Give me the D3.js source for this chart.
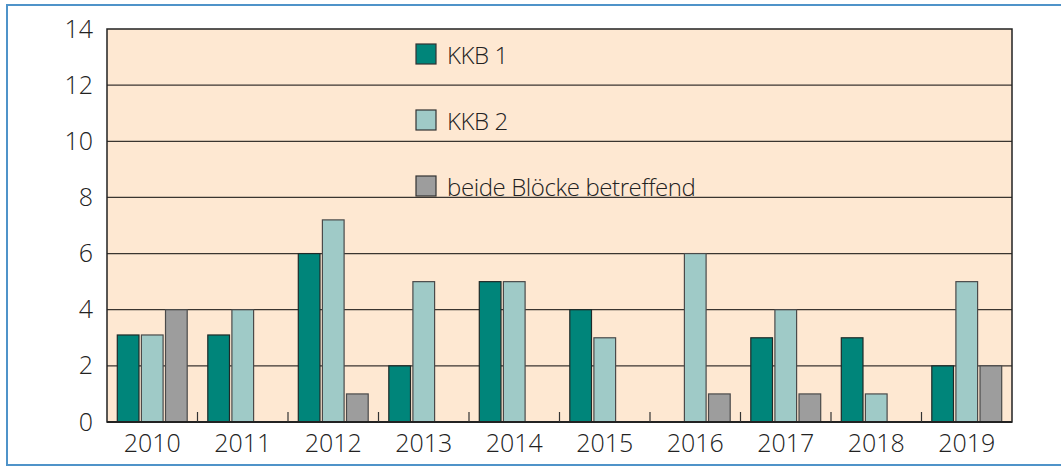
<!DOCTYPE html>
<html>
<head>
<meta charset="utf-8">
<script src="https://cdn.jsdelivr.net/npm/d3@7"></script>
<style>
    body { margin: 0; background: #fff; }
    svg text { font-family: "Open Sans", sans-serif; font-weight: 350; fill: #222; }
</style>
</head>
<body>
<div id="chart"></div>
<script>

var years = ["2010", "2011", "2012", "2013", "2014", "2015", "2016", "2017", "2018", "2019"];
var seriesNames = ["KKB 1", "KKB 2", "beide Blöcke betreffend"];
var kkb1 = [3.1, 3.1, 6, 2, 5, 4, 0, 3, 3, 2];
var kkb2 = [3.1, 4, 7.2, 5, 5, 3, 6, 4, 1, 5];
var beide = [4, 0, 1, 0, 0, 0, 1, 1, 0, 2];
var yTicks = [0, 2, 4, 6, 8, 10, 12, 14];

BarChart = function(container){

    this.container = container;
    this.colors = ["#00857a", "#9fcac7", "#9d9d9d"];
    this.series = [kkb1, kkb2, beide];

    this._init();
};

BarChart.prototype._init = function(){

    this._build_graph();
    this._draw_frame();
    this._draw_grid();
    this._draw_bars();
    this._draw_axes();
    this._draw_legend();

};

BarChart.prototype._build_graph = function(){

    this.full_width = 1061;
    this.full_height = 466;
    this.margin = {left: 107, top: 29, right: 50, bottom: 44};

    this.width = 905;
    this.height = 393;

    this._svg = d3.select(this.container)
        .append("svg")
        .attr("width", this.full_width)
        .attr("height", this.full_height);

    this._chart = this._svg
        .append("g")
        .attr("transform", "translate(" + this.margin.left + "," + this.margin.top + ")");

    this.x0 = d3.scaleBand().domain(years).range([0, this.width]);
    this.x1 = d3.scaleBand().domain([0, 1, 2]).range([10.3, 80.2]).paddingInner(0.1);
    this.y = d3.scaleLinear().domain([0, 14]).range([this.height, 0]);

};

BarChart.prototype._draw_frame = function(){

    // blue frame, runs off the right side
    this._svg.append("rect")
        .attr("x", 7)
        .attr("y", 5)
        .attr("width", 1100)
        .attr("height", 460)
        .style("fill", "none")
        .style("stroke", "#4f93c9")
        .style("stroke-width", 2);

    this._chart.append("rect")
        .attr("width", this.width)
        .attr("height", this.height)
        .style("fill", "#fee8d2");

};

BarChart.prototype._draw_grid = function(){

    var self = this;

    this._chart.append("g")
        .selectAll("line")
        .data(yTicks.filter(function(d){ return d > 0 && d < 14; }))
        .join("line")
        .attr("x1", 0)
        .attr("x2", this.width)
        .attr("y1", function(d){ return self.y(d); })
        .attr("y2", function(d){ return self.y(d); })
        .style("stroke", "#3a3530")
        .style("stroke-width", 1.2);

};

BarChart.prototype._draw_bars = function(){

    var self = this;

    var groups = this._chart.append("g")
        .selectAll("g")
        .data(years)
        .join("g")
        .attr("transform", function(d){ return "translate(" + self.x0(d) + ",0)"; });

    groups.selectAll("rect")
        .data(function(d, i){
            return self.series.map(function(s, k){ return {k: k, v: s[i]}; })
                .filter(function(e){ return e.v > 0; });
        })
        .join("rect")
        .attr("x", function(d){ return self.x1(d.k); })
        .attr("width", this.x1.bandwidth())
        .attr("y", function(d){ return self.y(d.v); })
        .attr("height", function(d){ return self.y(0) - self.y(d.v); })
        .style("fill", function(d){ return self.colors[d.k]; })
        .style("stroke", function(d){ return d.k == 0 ? "#1f2a28" : "#4a4a4a"; })
        .style("stroke-width", 1.2);

};

BarChart.prototype._draw_axes = function(){

    var self = this;

    // plot border
    this._chart.append("rect")
        .attr("width", this.width)
        .attr("height", this.height)
        .style("fill", "none")
        .style("stroke", "#222")
        .style("stroke-width", 1.5);

    this._chart.append("line")
        .attr("x1", 0)
        .attr("x2", this.width)
        .attr("y1", this.height)
        .attr("y2", this.height)
        .style("stroke", "#222")
        .style("stroke-width", 2.2);

    // small ticks between the years
    this._chart.append("g")
        .selectAll("line")
        .data(years.slice(1))
        .join("line")
        .attr("x1", function(d){ return self.x0(d); })
        .attr("x2", function(d){ return self.x0(d); })
        .attr("y1", this.height)
        .attr("y2", this.height - 10)
        .style("stroke", "#333")
        .style("stroke-width", 1.2);

    var yAxis = d3.axisLeft(this.y).tickValues(yTicks).tickSize(0).tickPadding(14);
    var gy = this._chart.append("g").call(yAxis);
    gy.select(".domain").remove();
    gy.selectAll("text")
        .style("font-size", "25px")
        .style("font-family", "'Open Sans', sans-serif")
        .style("font-weight", 350)
        .attr("fill", "#222");

    var xAxis = d3.axisBottom(this.x0).tickSize(0).tickPadding(12);
    var gx = this._chart.append("g")
        .attr("transform", "translate(0," + this.height + ")")
        .call(xAxis);
    gx.select(".domain").remove();
    gx.selectAll("text")
        .style("font-size", "25px")
        .style("font-family", "'Open Sans', sans-serif")
        .style("font-weight", 350)
        .attr("fill", "#222");

};

BarChart.prototype._draw_legend = function(){

    var self = this;

    var legend = this._svg.append("g")
        .selectAll("g")
        .data(seriesNames)
        .join("g")
        .attr("transform", function(d, i){ return "translate(416," + (44 + i * 66) + ")"; });

    legend.append("rect")
        .attr("width", 20)
        .attr("height", 20)
        .style("fill", function(d, i){ return self.colors[i]; })
        .style("stroke", "#333")
        .style("stroke-width", 1.2);

    legend.append("text")
        .attr("x", 31)
        .attr("y", 20)
        .style("font-size", "24px")
        .style("letter-spacing", "-0.4px")
        .text(function(d){ return d; });

};

new BarChart("#chart");

</script>
</body>
</html>
